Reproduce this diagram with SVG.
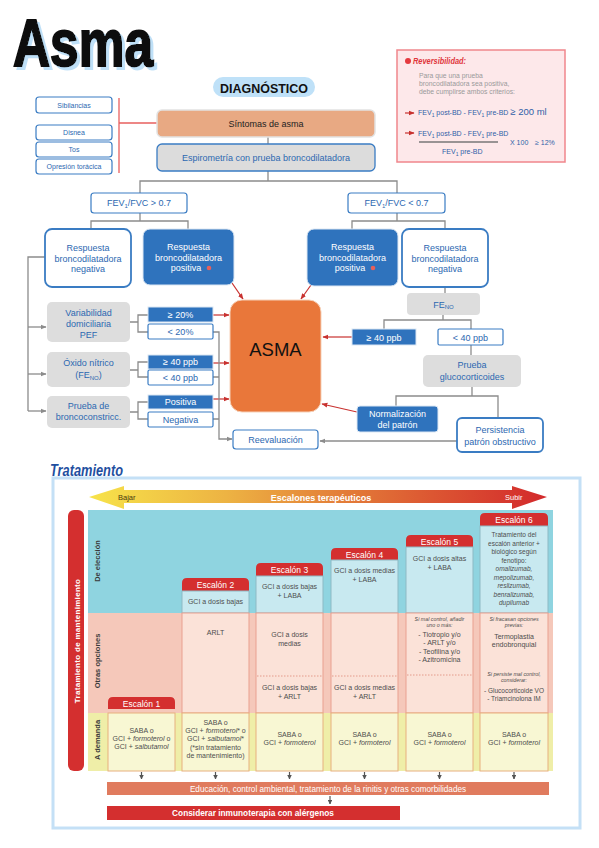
<svg xmlns="http://www.w3.org/2000/svg" width="599" height="848" viewBox="0 0 599 848">
<defs>
<linearGradient id="gr" x1="89" y1="0" x2="547" y2="0" gradientUnits="userSpaceOnUse">
<stop offset="0" stop-color="#F7E34A"/>
<stop offset="0.3" stop-color="#EDB343"/>
<stop offset="0.5" stop-color="#E5883A"/>
<stop offset="0.75" stop-color="#DC5632"/>
<stop offset="1" stop-color="#D3292C"/>
</linearGradient>
<filter id="sh" x="-10%" y="-10%" width="130%" height="130%">
<feDropShadow dx="3" dy="3" stdDeviation="0.6" flood-color="#BFE0F7" flood-opacity="1"/>
</filter>
<marker id="ar" viewBox="0 0 10 10" refX="9" refY="5" markerWidth="5" markerHeight="5" orient="auto"><path d="M0,1 L10,5 L0,9z" fill="#C8312F"/></marker>
<marker id="ag" viewBox="0 0 10 10" refX="9" refY="5" markerWidth="4.5" markerHeight="4.5" orient="auto"><path d="M0,1 L10,5 L0,9z" fill="#8C8C8C"/></marker>
<marker id="ad" viewBox="0 0 10 10" refX="9" refY="5" markerWidth="4" markerHeight="4" orient="auto"><path d="M0,0 L10,5 L0,10z" fill="#555"/></marker>
</defs>
<style>
text{font-family:"Liberation Sans",Arial,sans-serif}
.tb{fill:#2C68B1;font-size:9px;text-anchor:middle}
.tw{fill:#fff;font-size:9px;text-anchor:middle}
.sym{fill:#2C68B1;font-size:7px;text-anchor:middle}
.bw{fill:#fff;stroke:#3A7CC3;stroke-width:1.2}
.bw2{fill:#fff;stroke:#3A7CC3;stroke-width:1.8}
.bb{fill:#2F73BD;stroke:#DCE7F3;stroke-width:1}
.bg{fill:#DDDDDD}
.cn{fill:none;stroke:#8C8C8C;stroke-width:1.3}
.ra{fill:none;stroke:#C8312F;stroke-width:1.2;marker-end:url(#ar)}
.ga{fill:none;stroke:#8C8C8C;stroke-width:1.3;marker-end:url(#ag)}
.da{fill:none;stroke:#555;stroke-width:1.2;marker-end:url(#ad)}
.hd{fill:#D42F2F}
.ht{fill:#fff;font-size:8.5px;text-anchor:middle}
.ct{fill:#4D4D4D;font-size:7px;text-anchor:middle}
.c6{fill:#4D4D4D;font-size:6.5px;text-anchor:middle}
.cs{fill:#4D4D4D;font-size:5.3px;font-style:italic;text-anchor:middle}
.tc{fill:#C8E9F0;stroke:#8DB9C4;stroke-width:1}
.pc{fill:#FBE2D8;stroke:#E9A08F;stroke-width:1}
.yc{fill:#F8F7D3;stroke:#E7B07E;stroke-width:1}
.dt{stroke:#E08C7A;stroke-width:0.8;stroke-dasharray:1.5 1.5}
.rl{fill:#3A3A3A;font-size:7.5px;font-weight:bold;text-anchor:middle}
.rv{fill:#2F5FA8;font-size:7px}
.rg{fill:#9A9A9A;font-size:6.8px}
</style>
<rect width="599" height="848" fill="#fff"/>

<!-- Title -->
<g id="title">
<text x="13" y="66" font-size="67" font-weight="bold" fill="#111" stroke="#111" stroke-width="2" textLength="140" lengthAdjust="spacingAndGlyphs" filter="url(#sh)">Asma</text>
</g>

<g id="diagnostico">
<rect x="213" y="77" width="102" height="20" rx="10" fill="#BFE1F8"/>
<text x="264" y="93" font-size="13" font-weight="bold" fill="#111" text-anchor="middle" textLength="88" lengthAdjust="spacingAndGlyphs">DIAGNÓSTICO</text>
</g>

<!-- Connectors -->
<g id="connectors">
<path d="M119 98 V173 M119 123 H157" fill="none" stroke="#E8605F" stroke-width="1.3"/>
<path class="cn" d="M268 137 V144"/>
<path class="cn" d="M268 171 V181 M140 193 V181 H397 V193"/>
<path class="cn" d="M140 213 V221 M91 229 V221 H188 V229"/>
<path class="cn" d="M397 213 V221 M352 229 V221 H445 V229"/>
<path class="cn" d="M45 257 H28 V411"/>
<path class="ga" d="M28 327 H46"/>
<path class="ga" d="M28 374 H46"/>
<path class="ga" d="M28 411 H46"/>
<path class="cn" d="M130 322 H138 M148 315 H138 V332 H148"/>
<path class="cn" d="M130 370 H138 M148 362 H138 V377 H148"/>
<path class="cn" d="M130 412 H138 M148 402 H138 V419 H148"/>
<path class="ra" d="M213 315 H229"/>
<path class="ra" d="M213 363 H229"/>
<path class="ra" d="M213 399 H229"/>
<path class="ga" d="M213 332 H219 V439 H232"/>
<path class="cn" d="M213 377 H219 M213 419 H219"/>
<path class="ra" d="M232 283 L243 299"/>
<path class="ra" d="M311 285 L301 299"/>
<path class="cn" d="M445 287 V293"/>
<path class="cn" d="M443 315 V320 M384 329 V320 H471 V329"/>
<path class="ra" d="M352 337 H323"/>
<path class="cn" d="M471 345 V355"/>
<path class="cn" d="M472 387 V396 M396 406 V396 H498 V418"/>
<path class="ra" d="M357 412 L322 404"/>
<path class="ga" d="M457 441 H320"/>
</g>

<!-- Symptoms -->
<g id="sibilancias"><rect class="bw" x="36" y="97" width="76" height="16" rx="3"/><text class="sym" x="74" y="107.5">Sibilancias</text></g>
<g id="disnea"><rect class="bw" x="36" y="125" width="76" height="15" rx="3"/><text class="sym" x="74" y="135">Disnea</text></g>
<g id="tos"><rect class="bw" x="36" y="142" width="76" height="15" rx="3"/><text class="sym" x="74" y="152">Tos</text></g>
<g id="opresion"><rect class="bw" x="36" y="159" width="76" height="15" rx="3"/><text class="sym" x="74" y="169">Opresión torácica</text></g>

<g id="sintomas"><rect x="157" y="110" width="218" height="27" rx="5" fill="#E8A983" stroke="#E2E2E2" stroke-width="1.5"/><text x="266" y="126.5" font-size="9" fill="#222" text-anchor="middle">Síntomas de asma</text></g>
<g id="espirometria"><rect x="157" y="144" width="218" height="27" rx="5" fill="#DCDCDC" stroke="#3A7CC3" stroke-width="1.3"/><text class="tb" x="266" y="160.5">Espirometría con prueba broncodilatadora</text></g>

<g id="fev-mayor"><rect class="bw" x="91" y="193" width="96" height="20" rx="3"/><text class="tb" x="139" y="206">FEV<tspan font-size="6" dy="2">1</tspan><tspan dy="-2">/FVC &gt; 0.7</tspan></text></g>
<g id="fev-menor"><rect class="bw" x="348" y="193" width="97" height="20" rx="3"/><text class="tb" x="396.5" y="206">FEV<tspan font-size="6" dy="2">1</tspan><tspan dy="-2">/FVC &lt; 0.7</tspan></text></g>

<g id="neg-izq"><rect class="bw2" x="45" y="229" width="86" height="58" rx="7"/>
<text class="tb" x="88" y="251">Respuesta</text><text class="tb" x="88" y="261.5">broncodilatadora</text><text class="tb" x="88" y="272">negativa</text></g>
<g id="pos-izq"><rect class="bb" x="143" y="229" width="91" height="56" rx="7"/>
<text class="tw" x="188.5" y="250">Respuesta</text><text class="tw" x="188.5" y="260.5">broncodilatadora</text><text class="tw" x="186" y="271">positiva</text><circle cx="209" cy="268" r="2.3" fill="#E8605A"/></g>
<g id="pos-der"><rect class="bb" x="307" y="229" width="91" height="57" rx="7"/>
<text class="tw" x="352.5" y="250">Respuesta</text><text class="tw" x="352.5" y="260.5">broncodilatadora</text><text class="tw" x="350" y="271">positiva</text><circle cx="373" cy="268" r="2.3" fill="#E8605A"/></g>
<g id="neg-der"><rect class="bw2" x="402" y="229" width="86" height="58" rx="7"/>
<text class="tb" x="445" y="251">Respuesta</text><text class="tb" x="445" y="261.5">broncodilatadora</text><text class="tb" x="445" y="272">negativa</text></g>

<g id="variabilidad"><rect class="bg" x="47" y="302" width="83" height="40" rx="5"/>
<text class="tb" x="88.5" y="316">Variabilidad</text><text class="tb" x="88.5" y="327">domiciliaria</text><text class="tb" x="88.5" y="338">PEF</text></g>
<g id="oxido"><rect class="bg" x="47" y="352" width="83" height="35" rx="5"/>
<text class="tb" x="88.5" y="366">Óxido nítrico</text><text class="tb" x="88.5" y="378">(FE<tspan font-size="6" dy="1.5">NO</tspan><tspan dy="-1.5">)</tspan></text></g>
<g id="broncoconstriccion"><rect class="bg" x="47" y="396" width="83" height="32" rx="5"/>
<text class="tb" x="88.5" y="408.5">Prueba de</text><text class="tb" x="88.5" y="420">broncoconstricc.</text></g>

<g id="pef-pos"><rect class="bb" x="148" y="307" width="65" height="15"/><text class="tw" x="180.5" y="317.5">≥ 20%</text></g>
<g id="pef-neg"><rect class="bw" x="148" y="324" width="65" height="15" rx="1.5"/><text class="tb" x="180.5" y="334.5">&lt; 20%</text></g>
<g id="feno-pos-izq"><rect class="bb" x="148" y="355" width="65" height="14"/><text class="tw" x="180.5" y="365">≥ 40 ppb</text></g>
<g id="feno-neg-izq"><rect class="bw" x="148" y="370" width="65" height="15" rx="1.5"/><text class="tb" x="180.5" y="380.5">&lt; 40 ppb</text></g>
<g id="bc-pos"><rect class="bb" x="148" y="395" width="65" height="14"/><text class="tw" x="180.5" y="405">Positiva</text></g>
<g id="bc-neg"><rect class="bw" x="148" y="412" width="65" height="15" rx="1.5"/><text class="tb" x="180.5" y="422.5">Negativa</text></g>

<g id="asma"><rect x="230" y="300" width="91" height="112" rx="12" fill="#E9773A" stroke="#F6D1B8" stroke-width="1"/><text x="275.5" y="356" font-size="18.5" fill="#111" text-anchor="middle">ASMA</text></g>
<g id="reevaluacion"><rect class="bw" x="233" y="430" width="85" height="19" rx="3"/><text class="tb" x="275.5" y="443">Reevaluación</text></g>

<g id="feno"><rect class="bg" x="407" y="293" width="73" height="22" rx="4"/><text class="tb" x="443.5" y="307.5">FE<tspan font-size="6" dy="1.5">NO</tspan></text></g>
<g id="feno-pos-der"><rect class="bb" x="352" y="329" width="64" height="16"/><text class="tw" x="384" y="340.5">≥ 40 ppb</text></g>
<g id="feno-neg-der"><rect class="bw" x="438" y="329" width="65" height="16" rx="1.5"/><text class="tb" x="470.5" y="340.5">&lt; 40 ppb</text></g>
<g id="glucocorticoides"><rect class="bg" x="423" y="355" width="98" height="32" rx="5"/><text class="tb" x="472" y="368">Prueba</text><text class="tb" x="472" y="379.5">glucocorticoides</text></g>
<g id="normalizacion"><rect class="bb" x="357" y="406" width="81" height="26" rx="3"/><text class="tw" x="397.5" y="417">Normalización</text><text class="tw" x="397.5" y="428">del patrón</text></g>
<g id="persistencia"><rect class="bw2" x="457" y="418" width="86" height="34" rx="5"/><text class="tb" x="500" y="433">Persistencia</text><text class="tb" x="500" y="445">patrón obstructivo</text></g>

<!-- Reversibility note -->
<g id="reversibilidad">
<rect x="397" y="50" width="168" height="112" fill="#FDE8EA" stroke="#F0868C" stroke-width="1.5"/>
<circle cx="408" cy="61" r="3" fill="#E5393F"/>
<text x="413" y="64" font-family="'Liberation Serif',serif" font-size="9" font-style="italic" font-weight="bold" fill="#E0353B" textLength="53" lengthAdjust="spacingAndGlyphs">Reversibilidad:</text>
<text class="rg" x="419" y="78">Para que una prueba</text>
<text class="rg" x="419" y="86">broncodilatadora sea positiva,</text>
<text class="rg" x="419" y="94">debe cumplirse ambos criterios:</text>
<path class="ra" d="M405 113 H414"/>
<text class="rv" x="418" y="115">FEV<tspan font-size="5" dy="1.5">1</tspan><tspan dy="-1.5"> post-BD - FEV</tspan><tspan font-size="5" dy="1.5">1</tspan><tspan dy="-1.5"> pre-BD </tspan><tspan font-size="9.5">≥ 200 ml</tspan></text>
<path class="ra" d="M405 133 H414"/>
<text class="rv" x="418" y="136">FEV<tspan font-size="5" dy="1.5">1</tspan><tspan dy="-1.5"> post-BD - FEV</tspan><tspan font-size="5" dy="1.5">1</tspan><tspan dy="-1.5"> pre-BD</tspan></text>
<path d="M419 142 H498" stroke="#777" stroke-width="1.5"/>
<text class="rv" x="442" y="154">FEV<tspan font-size="5" dy="1.5">1</tspan><tspan dy="-1.5"> pre-BD</tspan></text>
<text class="rv" x="510" y="145" font-size="5.5">X 100</text>
<text class="rv" x="535" y="145" font-size="9">≥ 12%</text>
</g>

<!-- Treatment -->
<g id="tratamiento-titulo">
<text x="50" y="476" font-family="'Liberation Serif',serif" font-size="16" font-style="italic" font-weight="bold" fill="#1F4FA0" textLength="73" lengthAdjust="spacingAndGlyphs">Tratamiento</text>
</g>
<rect x="53" y="478" width="527" height="350" fill="none" stroke="#C4E0F6" stroke-width="3"/>

<g id="escalones-flecha">
<polygon points="89,497 124,486 124,490 512,490 512,486 547,497 512,509 512,503 124,503 124,509" fill="url(#gr)"/>
<text x="118" y="500" font-size="7.5" fill="#4A3A10">Bajar</text>
<text x="321" y="500.5" font-size="9" font-weight="bold" fill="#fff" text-anchor="middle">Escalones terapéuticos</text>
<text x="505" y="500" font-size="7.5" fill="#fff">Subir</text>
</g>

<g id="tabla-fondo">
<rect x="88" y="510" width="465" height="103" fill="#8FD4E0"/>
<rect x="88" y="613" width="465" height="100" fill="#F5C8BA"/>
<rect x="88" y="713" width="465" height="58" fill="#EFEEA8"/>
<rect x="68" y="510" width="16" height="261" rx="6" fill="#D42F2F"/>
<text transform="translate(79.5 641) rotate(-90)" font-size="8" font-weight="bold" fill="#fff" text-anchor="middle" letter-spacing="0.3">Tratamiento de mantenimiento</text>
<text class="rl" transform="translate(99.5 561) rotate(-90)">De elección</text>
<text class="rl" transform="translate(99.5 661) rotate(-90)">Otras opciones</text>
<text class="rl" transform="translate(99.5 740) rotate(-90)">A demanda</text>
</g>

<g id="escalon-1">
<path class="hd" d="M108 709 V702 Q108 697 113 697 H170 Q175 697 175 702 V709 Z"/>
<text class="ht" x="141.5" y="706.5">Escalón 1</text>
<rect class="yc" x="108" y="713" width="67" height="58"/>
<text class="ct" x="141.5" y="733">SABA o</text>
<text class="ct" x="141.5" y="741">GCI + <tspan font-style="italic">formoterol</tspan> o</text>
<text class="ct" x="141.5" y="749">GCI + <tspan font-style="italic">salbutamol</tspan></text>
</g>

<g id="escalon-2">
<path class="hd" d="M182 591 V583 Q182 578 187 578 H244 Q249 578 249 583 V591 Z"/>
<text class="ht" x="215.5" y="587.5">Escalón 2</text>
<rect class="tc" x="182" y="591" width="67" height="22"/>
<text class="ct" x="215.5" y="604">GCI a dosis bajas</text>
<rect class="pc" x="182" y="613" width="67" height="100"/>
<text class="ct" x="215.5" y="635">ARLT</text>
<rect class="yc" x="182" y="713" width="67" height="58"/>
<text class="ct" x="215.5" y="725">SABA o</text>
<text class="ct" x="215.5" y="733">GCI + <tspan font-style="italic">formoterol</tspan>* o</text>
<text class="ct" x="215.5" y="741">GCI + <tspan font-style="italic">salbutamol</tspan>*</text>
<text class="ct" x="215.5" y="750">(*sin tratamiento</text>
<text class="ct" x="215.5" y="758">de mantenimiento)</text>
</g>

<g id="escalon-3">
<path class="hd" d="M256 576 V568 Q256 563 261 563 H318 Q323 563 323 568 V576 Z"/>
<text class="ht" x="289.5" y="572.5">Escalón 3</text>
<rect class="tc" x="256" y="576" width="67" height="37"/>
<text class="ct" x="289.5" y="589">GCI a dosis bajas</text>
<text class="ct" x="289.5" y="598">+ LABA</text>
<rect class="pc" x="256" y="613" width="67" height="100"/>
<text class="ct" x="289.5" y="637">GCI a dosis</text>
<text class="ct" x="289.5" y="646">medias</text>
<line class="dt" x1="257" y1="676" x2="322" y2="676"/>
<text class="ct" x="289.5" y="690">GCI a dosis bajas</text>
<text class="ct" x="289.5" y="699">+ ARLT</text>
<rect class="yc" x="256" y="713" width="67" height="58"/>
<text class="ct" x="289.5" y="737">SABA o</text>
<text class="ct" x="289.5" y="745">GCI + <tspan font-style="italic">formoterol</tspan></text>
</g>

<g id="escalon-4">
<path class="hd" d="M331 560 V553 Q331 548 336 548 H393 Q398 548 398 553 V560 Z"/>
<text class="ht" x="364.5" y="557.5">Escalón 4</text>
<rect class="tc" x="331" y="560" width="67" height="53"/>
<text class="ct" x="364.5" y="573">GCI a dosis medias</text>
<text class="ct" x="364.5" y="582">+ LABA</text>
<rect class="pc" x="331" y="613" width="67" height="100"/>
<line class="dt" x1="332" y1="676" x2="397" y2="676"/>
<text class="ct" x="364.5" y="690">GCI a dosis medias</text>
<text class="ct" x="364.5" y="699">+ ARLT</text>
<rect class="yc" x="331" y="713" width="67" height="58"/>
<text class="ct" x="364.5" y="737">SABA o</text>
<text class="ct" x="364.5" y="745">GCI + <tspan font-style="italic">formoterol</tspan></text>
</g>

<g id="escalon-5">
<path class="hd" d="M406 547 V540 Q406 535 411 535 H468 Q473 535 473 540 V547 Z"/>
<text class="ht" x="439.5" y="544.5">Escalón 5</text>
<rect class="tc" x="406" y="547" width="67" height="66"/>
<text class="ct" x="439.5" y="561">GCI a dosis altas</text>
<text class="ct" x="439.5" y="570">+ LABA</text>
<rect class="pc" x="406" y="613" width="67" height="100"/>
<text class="cs" x="439.5" y="621">Si mal control, añadir</text>
<text class="cs" x="439.5" y="627">uno o más:</text>
<text class="ct" x="439.5" y="637">- Tiotropio y/o</text>
<text class="ct" x="439.5" y="645">- ARLT y/o</text>
<text class="ct" x="439.5" y="653.5">- Teofilina y/o</text>
<text class="ct" x="439.5" y="662">- Azitromicina</text>
<line class="dt" x1="407" y1="675" x2="472" y2="675"/>
<rect class="yc" x="406" y="713" width="67" height="58"/>
<text class="ct" x="439.5" y="737">SABA o</text>
<text class="ct" x="439.5" y="745">GCI + <tspan font-style="italic">formoterol</tspan></text>
</g>

<g id="escalon-6">
<path class="hd" d="M480 526 V518 Q480 513 485 513 H543 Q548 513 548 518 V526 Z"/>
<text class="ht" x="514" y="522.5">Escalón 6</text>
<rect class="tc" x="480" y="526" width="68" height="87"/>
<text class="c6" x="514" y="537">Tratamiento del</text>
<text class="c6" x="514" y="545.5">escalón anterior +</text>
<text class="c6" x="514" y="554">biológico según</text>
<text class="c6" x="514" y="562.5">fenotipo:</text>
<text class="c6" x="514" y="571" font-style="italic">omalizumab,</text>
<text class="c6" x="514" y="579.5" font-style="italic">mepolizumab,</text>
<text class="c6" x="514" y="588" font-style="italic">reslizumab,</text>
<text class="c6" x="514" y="596.5" font-style="italic">benralizumab,</text>
<text class="c6" x="514" y="605" font-style="italic">dupilumab</text>
<rect class="pc" x="480" y="613" width="68" height="100"/>
<text class="cs" x="514" y="621">Si fracasan opciones</text>
<text class="cs" x="514" y="627">previas:</text>
<text class="ct" x="514" y="639">Termoplastia</text>
<text class="ct" x="514" y="647">endobronquial</text>
<text class="cs" x="514" y="676">Si persiste mal control,</text>
<text class="cs" x="514" y="682">considerar:</text>
<text class="c6" x="514" y="693">- Glucocorticoide VO</text>
<text class="c6" x="514" y="701">- Triamcinolona IM</text>
<rect class="yc" x="480" y="713" width="68" height="58"/>
<text class="ct" x="514" y="737">SABA o</text>
<text class="ct" x="514" y="745">GCI + <tspan font-style="italic">formoterol</tspan></text>
</g>

<g id="flechas-tabla">
<path class="da" d="M141.5 772 V779"/>
<path class="da" d="M215.5 772 V779"/>
<path class="da" d="M289.5 772 V779"/>
<path class="da" d="M364.5 772 V779"/>
<path class="da" d="M439.5 772 V779"/>
<path class="da" d="M514 772 V779"/>
<path class="da" d="M330 796 V804"/>
</g>

<g id="educacion">
<rect x="107" y="782" width="442" height="13" fill="#E07B5E"/>
<text x="328" y="791.5" font-size="8.2" fill="#fff" text-anchor="middle">Educación, control ambiental, tratamiento de la rinitis y otras comorbilidades</text>
</g>
<g id="inmunoterapia">
<rect x="107" y="806" width="293" height="14" fill="#D42F2F"/>
<text x="253" y="816" font-size="8.3" font-weight="bold" fill="#fff" text-anchor="middle">Considerar inmunoterapia con alérgenos</text>
</g>
</svg>
